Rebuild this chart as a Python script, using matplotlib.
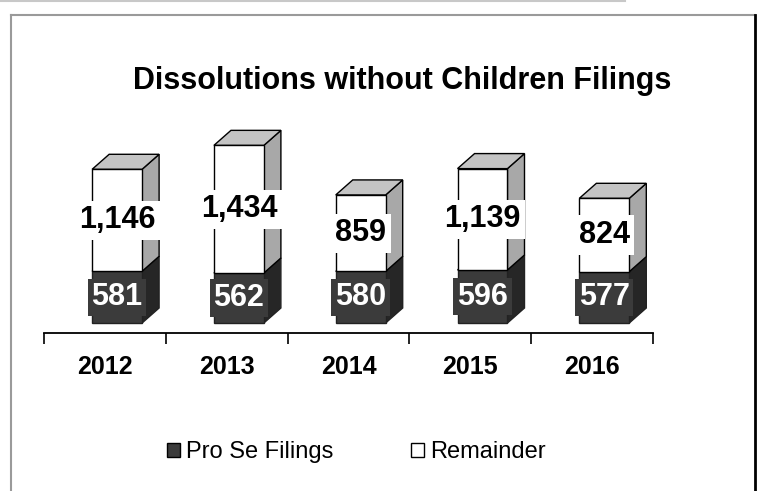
import numpy as np
import matplotlib
matplotlib.use("Agg")
import matplotlib.pyplot as plt
from matplotlib.patches import Polygon, Patch
from matplotlib.lines import Line2D

plt.rcParams["font.family"] = ["Liberation Sans", "DejaVu Sans"]

years = ["2012", "2013", "2014", "2015", "2016"]
pro_se = [581, 562, 580, 596, 577]
remainder = [1146, 1434, 859, 1139, 824]

W, H = 762, 491
fig = plt.figure(figsize=(W / 100, H / 100), dpi=100)

# axes placed so the category axis sits where it does in the original
ax = fig.add_axes([44 / W, 1 - 333 / H, (653 - 44) / W, (333 - 100) / H])
ax.set_xlim(-0.5, 4.5)
ax.set_ylim(-112, 2506)

front_dark = "#3b3b3b"
side_dark = "#262626"
side_light = "#a8a8a8"
top_light = "#c4c4c4"

bw = 0.41      # bar front width (category units)
shift = 0.10   # front face sits a little right of the slot centre
dx, dy = 0.14, 169  # depth offset

x = np.arange(len(years)) + shift

def box(xc, y0, y1, side, top, edge):
    xl, xr = xc - bw / 2, xc + bw / 2
    ax.add_patch(Polygon([(xr, y0), (xr + dx, y0 + dy), (xr + dx, y1 + dy), (xr, y1)],
                         closed=True, facecolor=side, edgecolor=edge, lw=1, zorder=2))
    ax.add_patch(Polygon([(xl, y1), (xl + dx, y1 + dy), (xr + dx, y1 + dy), (xr, y1)],
                         closed=True, facecolor=top, edgecolor=edge, lw=1, zorder=2))

ax.bar(x, pro_se, width=bw, color=front_dark, edgecolor="#222222", lw=1, zorder=3)
ax.bar(x, remainder, width=bw, bottom=pro_se, color="white", edgecolor="black", lw=1, zorder=3)

for i in range(len(years)):
    box(x[i], 0, pro_se[i], side_dark, side_dark, "#222222")
    box(x[i], pro_se[i], pro_se[i] + remainder[i], side_light, top_light, "black")
    ax.text(x[i], pro_se[i] / 2, f"{pro_se[i]:,}", ha="center", va="center",
            fontsize=22, fontweight="bold", color="white", zorder=5,
            bbox=dict(boxstyle="square,pad=0.12", facecolor=front_dark, edgecolor="none"))
    ax.text(x[i], pro_se[i] + remainder[i] / 2, f"{remainder[i]:,}", ha="center", va="center",
            fontsize=22, fontweight="bold", color="black", zorder=5,
            bbox=dict(boxstyle="square,pad=0.15", facecolor="white", edgecolor="none"))

for s in ["top", "left", "right"]:
    ax.spines[s].set_visible(False)
ax.spines["bottom"].set_linewidth(1.3)
ax.set_yticks([])
ax.set_xticks(range(len(years)))
ax.set_xticklabels(years, fontsize=18, fontweight="bold")
ax.tick_params(axis="x", which="major", length=0, pad=16)
ax.set_xticks(np.arange(-0.5, len(years), 1.0), minor=True)
ax.tick_params(axis="x", which="minor", length=8, width=1.2, direction="out")

fig.text(402 / W, 1 - 81 / H, "Dissolutions without Children Filings",
         ha="center", va="center", fontsize=22, fontweight="bold")

handles = [Patch(facecolor=front_dark, edgecolor="black", label="Pro Se Filings"),
           Patch(facecolor="white", edgecolor="black", label="Remainder")]
fig.legend(handles=handles, loc="center", bbox_to_anchor=(356 / W, 1 - 452 / H),
           ncol=2, frameon=False, fontsize=17, handlelength=0.55, handleheight=0.55,
           handletextpad=0.25, columnspacing=3.3)

# outer frame of the pasted chart
fig.add_artist(Line2D([0, 625 / W], [1 - 1 / H, 1 - 1 / H], color="#c8c8c8", lw=1.5))
fig.add_artist(Line2D([11 / W, 755 / W], [1 - 15 / H, 1 - 15 / H], color="#9a9a9a", lw=1.5))
fig.add_artist(Line2D([11 / W, 11 / W], [0, 1 - 15 / H], color="#9a9a9a", lw=1.5))
fig.add_artist(Line2D([755 / W, 755 / W], [0, 1 - 15 / H], color="black", lw=2))

fig.savefig("out.png", dpi=100)
